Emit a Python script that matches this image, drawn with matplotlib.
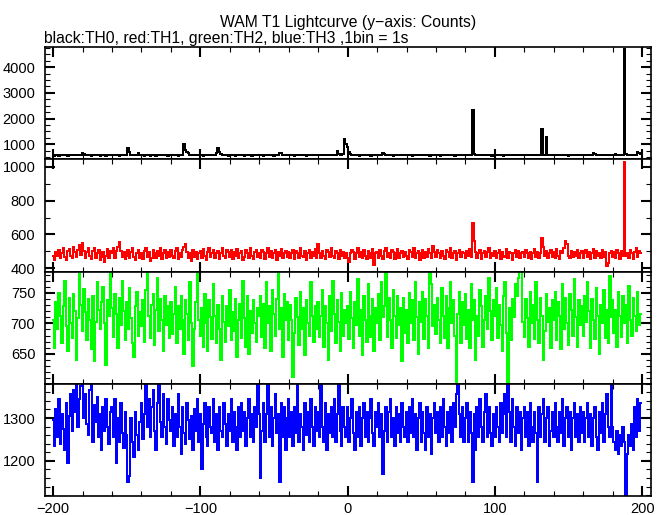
import numpy as np
import matplotlib
matplotlib.use("Agg")
import matplotlib.pyplot as plt
from matplotlib.ticker import MultipleLocator

plt.rcParams['font.family'] = ['Liberation Sans', 'DejaVu Sans']

# time bins (1 s each)
time = np.arange(-200, 200)

# TH0 (black)
th0 = [
    560, 555, 570, 565, 550, 575, 560, 565, 580, 560, 555, 570, 565, 560, 575, 585, 570, 560, 580, 575,
    640, 620, 575, 560, 565, 570, 555, 560, 570, 565, 575, 560, 550, 565, 570, 560, 555, 575, 565, 560,
    570, 565, 560, 575, 560, 555, 565, 570, 560, 580, 565, 840, 680, 575, 560, 565, 570, 560, 640, 590,
    575, 560, 555, 565, 570, 560, 550, 565, 575, 560, 555, 570, 565, 560, 575, 565, 560, 570, 555, 565,
    560, 570, 575, 560, 565, 555, 570, 580, 565, 1000, 760, 680, 640, 575, 560, 570, 565, 560, 575, 565,
    570, 560, 555, 575, 565, 560, 570, 580, 575, 565, 560, 640, 860, 700, 620, 575, 565, 560, 570, 555,
    560, 565, 575, 560, 555, 570, 565, 560, 575, 565, 555, 560, 570, 565, 560, 545, 560, 570, 565, 575,
    565, 560, 570, 555, 560, 575, 565, 570, 560, 565, 555, 570, 580, 565, 660, 640, 575, 560, 565, 570,
    560, 570, 565, 560, 555, 575, 565, 560, 570, 565, 580, 560, 555, 570, 565, 560, 575, 565, 570, 560,
    565, 560, 575, 570, 560, 565, 585, 560, 570, 565, 575, 560, 570, 740, 620, 575, 565, 600, 1220, 1000,
    900, 700, 620, 570, 560, 565, 575, 560, 555, 570, 565, 560, 575, 565, 570, 560, 555, 575, 565, 570,
    560, 570, 565, 575, 650, 620, 570, 560, 565, 575, 560, 555, 570, 565, 560, 575, 565, 560, 570, 565,
    575, 560, 565, 570, 555, 560, 575, 565, 560, 570, 565, 560, 575, 570, 560, 565, 555, 570, 565, 575,
    560, 570, 565, 555, 575, 560, 565, 570, 560, 575, 565, 560, 570, 555, 565, 575, 560, 565, 570, 560,
    565, 570, 575, 560, 565, 2350, 600, 575, 575, 565, 560, 570, 565, 560, 575, 565, 570, 560, 555, 570,
    565, 575, 560, 570, 565, 560, 555, 575, 565, 570, 560, 565, 575, 560, 570, 565, 560, 575, 565, 570,
    560, 565, 570, 575, 560, 565, 570, 560, 575, 565, 570, 560, 1600, 580, 575, 1260, 580, 565, 570, 560,
    575, 565, 560, 570, 565, 560, 575, 570, 560, 565, 555, 570, 565, 575, 560, 565, 570, 560, 575, 565,
    570, 560, 565, 575, 560, 570, 580, 660, 620, 575, 565, 560, 570, 565, 575, 560, 570, 565, 560, 575,
    565, 570, 620, 575, 560, 570, 565, 580, 4700, 600, 580, 565, 570, 560, 575, 565, 590, 700, 640, 600,
]

# TH1 (red)
th1 = [
    475, 448, 498, 470, 508, 458, 490, 520, 465, 452, 505, 512, 472, 462, 528, 495, 468, 510, 538, 478,
    548, 505, 462, 495, 522, 470, 455, 502, 518, 462, 490, 508, 450, 468, 498, 435, 475, 512, 462, 500,
    490, 518, 462, 502, 528, 558, 505, 465, 498, 455, 472, 508, 462, 498, 520, 468, 450, 492, 510, 462,
    488, 455, 502, 520, 468, 498, 445, 462, 510, 490, 460, 502, 472, 518, 455, 492, 510, 462, 498, 468,
    508, 472, 460, 502, 520, 455, 492, 468, 510, 528, 542, 498, 460, 492, 445, 508, 468, 498, 455, 488,
    502, 462, 512, 472, 450, 498, 520, 465, 492, 510, 460, 488, 502, 455, 492, 522, 472, 460, 510, 498,
    465, 508, 455, 498, 472, 512, 460, 492, 502, 450, 468, 510, 492, 460, 518, 472, 455, 498, 510, 465,
    492, 460, 510, 498, 455, 488, 518, 465, 502, 460, 492, 510, 450, 498, 472, 512, 460, 492, 502, 468,
    498, 460, 488, 510, 455, 502, 492, 462, 518, 472, 465, 502, 450, 492, 510, 460, 498, 472, 512, 462,
    545, 492, 460, 502, 472, 455, 510, 498, 465, 518, 472, 460, 502, 492, 455, 510, 472, 498, 462, 492,
    462, 440, 488, 510, 498, 455, 492, 520, 465, 498, 460, 510, 472, 455, 502, 492, 460, 512, 420, 488,
    498, 460, 510, 472, 455, 502, 520, 465, 492, 460, 510, 498, 455, 488, 512, 460, 492, 502, 465, 498,
    472, 455, 510, 498, 465, 518, 460, 492, 502, 450, 488, 510, 460, 498, 465, 512, 492, 460, 532, 498,
    465, 510, 492, 460, 502, 472, 455, 510, 498, 465, 518, 460, 492, 502, 450, 488, 510, 465, 498, 492,
    460, 502, 472, 512, 465, 665, 560, 498, 460, 492, 510, 455, 488, 502, 465, 498, 518, 460, 492, 472,
    502, 460, 492, 510, 455, 498, 472, 465, 512, 460, 498, 492, 450, 488, 510, 465, 502, 460, 492, 498,
    465, 510, 492, 460, 498, 455, 488, 512, 465, 498, 460, 492, 578, 525, 472, 502, 460, 492, 510, 465,
    498, 460, 512, 472, 455, 502, 492, 518, 562, 542, 472, 460, 502, 465, 498, 472, 510, 460, 492, 502,
    460, 492, 510, 465, 498, 455, 488, 512, 460, 502, 472, 492, 460, 510, 465, 498, 415, 432, 488, 502,
    465, 498, 460, 510, 492, 455, 502, 472, 1030, 472, 488, 460, 510, 492, 455, 498, 518, 465, 502, 488,
]

# TH2 (green)
th2 = [
    705, 660, 735, 690, 750, 712, 668, 728, 770, 695, 655, 742, 700, 676, 748, 720, 640, 708, 785, 730,
    688, 756, 718, 672, 740, 705, 658, 745, 638, 702, 768, 722, 690, 735, 760, 700, 632, 738, 712, 785,
    725, 678, 748, 715, 660, 742, 698, 770, 720, 672, 735, 690, 758, 708, 668, 645, 728, 752, 680, 718,
    695, 738, 670, 755, 785, 712, 676, 730, 748, 665, 722, 775, 688, 740, 705, 655, 745, 698, 728, 676,
    735, 682, 715, 760, 668, 728, 690, 745, 705, 650, 738, 716, 672, 768, 700, 630, 690, 735, 785, 705,
    680, 725, 662, 748, 700, 655, 738, 710, 675, 765, 712, 668, 730, 690, 640, 745, 702, 670, 728, 695,
    755, 672, 718, 688, 740, 645, 705, 732, 676, 770, 708, 662, 745, 650, 720, 685, 738, 700, 670, 725,
    712, 745, 678, 732, 660, 768, 700, 728, 655, 755, 715, 680, 740, 785, 690, 725, 645, 748, 705, 735,
    672, 730, 705, 612, 685, 742, 710, 665, 752, 690, 725, 648, 738, 700, 680, 768, 712, 670, 728, 690,
    735, 678, 712, 755, 662, 728, 700, 640, 745, 688, 770, 715, 668, 738, 702, 655, 750, 680, 722, 700,
    728, 675, 752, 708, 660, 735, 698, 772, 680, 722, 648, 745, 705, 670, 765, 712, 678, 740, 655, 725,
    700, 748, 672, 768, 710, 728, 785, 678, 742, 705, 660, 755, 712, 676, 745, 698, 725, 638, 742, 685,
    722, 668, 750, 700, 738, 672, 768, 710, 650, 735, 702, 752, 675, 740, 712, 660, 785, 765, 695, 730,
    682, 742, 705, 668, 758, 712, 676, 745, 660, 725, 768, 700, 738, 680, 602, 715, 752, 668, 735, 698,
    748, 675, 722, 660, 765, 705, 738, 640, 712, 680, 755, 728, 662, 705, 745, 690, 775, 720, 672, 738,
    712, 758, 676, 730, 698, 655, 745, 768, 685, 602, 725, 672, 740, 710, 765, 745, 775, 785, 785, 702,
    678, 740, 708, 662, 752, 700, 730, 675, 768, 705, 668, 742, 712, 640, 688, 748, 702, 725, 660, 738,
    705, 752, 672, 735, 712, 658, 765, 690, 742, 700, 665, 748, 722, 680, 772, 710, 662, 738, 698, 728,
    680, 745, 702, 768, 720, 660, 740, 705, 675, 758, 712, 650, 730, 700, 755, 676, 722, 668, 778, 710,
    738, 685, 722, 662, 752, 712, 678, 745, 700, 730, 668, 762, 705, 680, 742, 712, 688, 752, 698, 715,
]

# TH3 (blue)
th3 = [
    1295, 1235, 1320, 1255, 1345, 1240, 1310, 1275, 1225, 1335, 1195, 1305, 1355, 1270, 1365, 1315, 1380, 1280, 1345, 1375,
    1380, 1300, 1355, 1285, 1260, 1365, 1380, 1245, 1330, 1290, 1350, 1255, 1310, 1225, 1325, 1270, 1345, 1280, 1240, 1315,
    1325, 1255, 1345, 1195, 1300, 1245, 1335, 1265, 1230, 1315, 1260, 1150, 1165, 1300, 1245, 1210, 1315, 1260, 1225, 1290,
    1335, 1250, 1310, 1380, 1280, 1345, 1255, 1325, 1365, 1270, 1225, 1335, 1380, 1290, 1255, 1355, 1280, 1240, 1345, 1295,
    1270, 1325, 1235, 1310, 1255, 1355, 1280, 1215, 1325, 1265, 1240, 1335, 1295, 1250, 1305, 1225, 1320, 1270, 1345, 1245,
    1310, 1180, 1285, 1335, 1255, 1235, 1325, 1280, 1265, 1345, 1245, 1310, 1225, 1325, 1270, 1255, 1335, 1285, 1235, 1310,
    1270, 1345, 1245, 1315, 1280, 1225, 1325, 1255, 1335, 1270, 1315, 1235, 1300, 1345, 1255, 1310, 1245, 1325, 1280, 1380,
    1310, 1160, 1270, 1335, 1245, 1310, 1380, 1255, 1325, 1235, 1300, 1355, 1265, 1310, 1150, 1335, 1255, 1325, 1225, 1300,
    1345, 1255, 1315, 1235, 1325, 1265, 1380, 1245, 1310, 1280, 1225, 1335, 1260, 1315, 1245, 1345, 1280, 1235, 1325, 1270,
    1315, 1255, 1380, 1280, 1245, 1335, 1225, 1310, 1265, 1325, 1255, 1345, 1245, 1310, 1380, 1270, 1235, 1325, 1280, 1255,
    1325, 1245, 1300, 1345, 1265, 1225, 1315, 1255, 1325, 1235, 1300, 1335, 1255, 1315, 1245, 1300, 1345, 1265, 1235, 1315,
    1280, 1335, 1255, 1310, 1170, 1270, 1325, 1245, 1315, 1345, 1255, 1300, 1235, 1325, 1265, 1310, 1245, 1335, 1280, 1255,
    1315, 1245, 1325, 1265, 1345, 1255, 1310, 1225, 1300, 1335, 1245, 1315, 1265, 1225, 1325, 1255, 1310, 1215, 1300, 1335,
    1265, 1315, 1245, 1325, 1255, 1345, 1280, 1235, 1315, 1265, 1325, 1245, 1335, 1280, 1355, 1380, 1310, 1255, 1325, 1245,
    1300, 1335, 1245, 1315, 1265, 1150, 1310, 1225, 1325, 1255, 1345, 1280, 1245, 1315, 1355, 1255, 1325, 1265, 1235, 1310,
    1255, 1325, 1280, 1245, 1335, 1265, 1310, 1355, 1255, 1380, 1315, 1245, 1345, 1280, 1235, 1325, 1265, 1315, 1225, 1300,
    1325, 1255, 1315, 1235, 1335, 1280, 1245, 1315, 1265, 1150, 1325, 1255, 1310, 1345, 1245, 1300, 1325, 1235, 1270, 1315,
    1255, 1335, 1280, 1245, 1315, 1265, 1345, 1235, 1300, 1325, 1255, 1315, 1225, 1300, 1335, 1255, 1310, 1245, 1325, 1265,
    1315, 1245, 1300, 1335, 1255, 1310, 1235, 1300, 1325, 1255, 1225, 1315, 1265, 1335, 1245, 1310, 1355, 1280, 1255, 1380,
    1280, 1245, 1225, 1270, 1215, 1260, 1235, 1280, 1245, 1120, 1215, 1260, 1235, 1285, 1225, 1325, 1255, 1345, 1270, 1335,
]

fig = plt.figure(figsize=(6.69, 5.15), dpi=100)
axes = fig.subplots(4, 1, sharex=True, gridspec_kw=dict(hspace=0))
fig.subplots_adjust(left=0.0673, right=0.9731, top=0.9087, bottom=0.0369)

panels = [
    (th0, 'black', (410, 4790), 1000, 250),
    (th1, 'red', (381, 1045), 200, 100),
    (th2, '#00ff00', (601, 785), 50, 10),
    (th3, 'blue', (1118, 1380), 100, 20),
]

for ax, (y, c, lim, maj, mnr) in zip(axes, panels):
    ax.step(time, y, where='mid', color=c, lw=1.4, antialiased=False)
    ax.set_ylim(lim)
    ax.set_xlim(-205.5, 206)
    ax.yaxis.set_major_locator(MultipleLocator(maj))
    ax.yaxis.set_minor_locator(MultipleLocator(mnr))
    ax.xaxis.set_major_locator(MultipleLocator(100))
    ax.xaxis.set_minor_locator(MultipleLocator(20))
    ax.tick_params(which='both', direction='in', top=True, right=True, labelsize=10.5)
    ax.tick_params(which='major', length=7, width=1.5)
    ax.tick_params(which='minor', length=3.5, width=0.8)
    ax.tick_params(axis='y', pad=7)
    ax.tick_params(axis='x', pad=4)
    for s in ax.spines.values():
        s.set_linewidth(1.2)

fig.text(0.520, 0.957, 'WAM T1 Lightcurve (y\u2212axis: Counts)', ha='center', va='center', fontsize=11.3)
fig.text(0.0658, 0.926, 'black:TH0, red:TH1, green:TH2, blue:TH3 ,1bin = 1s', ha='left', va='center', fontsize=11.3)

fig.savefig('out.png', dpi=100)
